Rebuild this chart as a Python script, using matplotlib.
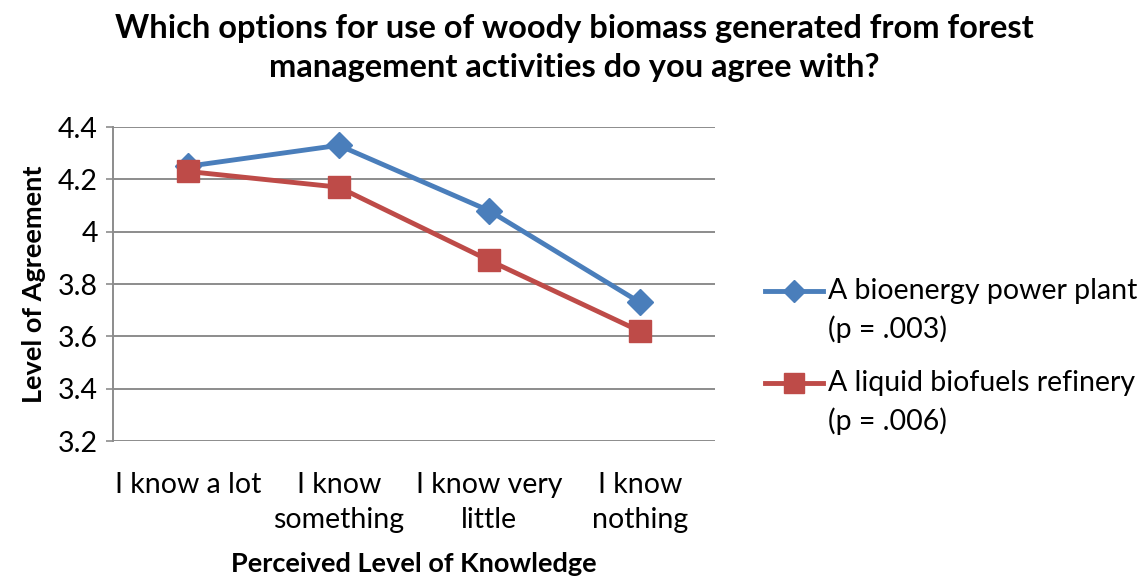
import matplotlib
matplotlib.use("Agg")
import matplotlib.pyplot as plt
from matplotlib.lines import Line2D

# Data
categories = ["I know a lot", "I know\nsomething", "I know very\nlittle", "I know\nnothing"]
power_plant = [4.25, 4.33, 4.08, 3.73]
biofuels = [4.23, 4.17, 3.89, 3.62]
series_labels = ["A bioenergy power plant", "A liquid biofuels refinery"]
p_labels = ["(p = .003)", "(p = .006)"]
y_ticks = [3.2, 3.4, 3.6, 3.8, 4.0, 4.2, 4.4]
y_ticklabels = ["3.2", "3.4", "3.6", "3.8", "4", "4.2", "4.4"]

blue = "#4A7EBB"
red = "#BE4B48"
grid_col = "#8C8C8C"

plt.rcParams["font.family"] = ["Lato", "DejaVu Sans"]

fig = plt.figure(figsize=(11.48, 5.82), dpi=100)
W, H = 1148, 582
ax = fig.add_axes([113 / W, 1 - 441 / H, (715 - 113) / W, (441 - 127) / H])

x = range(len(categories))
ax.plot(x, power_plant, color=blue, lw=3.5, marker="D", markersize=13,
        markerfacecolor=blue, markeredgecolor=blue, zorder=3)
ax.plot(x, biofuels, color=red, lw=3.5, marker="s", markersize=16,
        markerfacecolor=red, markeredgecolor=red, zorder=4)

ax.set_xlim(-0.5, len(categories) - 0.5)
ax.set_ylim(3.2, 4.4)
ax.set_yticks(y_ticks)
ax.set_yticklabels(y_ticklabels, fontsize=20.5)
ax.set_xticks(list(x))
ax.set_xticklabels(categories, fontsize=20.5, linespacing=1.45)
ax.tick_params(axis="x", length=0, pad=22)
ax.tick_params(axis="y", length=5, width=1.2, color=grid_col, pad=6)

ax.grid(axis="y", color=grid_col, lw=1.4)
ax.set_axisbelow(True)
for s in ["top", "right", "bottom"]:
    ax.spines[s].set_visible(False)
ax.spines["left"].set_color(grid_col)
ax.spines["left"].set_linewidth(1.4)

ax.set_ylabel("Level of Agreement", fontsize=19.5, fontweight="bold", labelpad=8)
ax.set_xlabel("Perceived Level of Knowledge", fontsize=19.5, fontweight="bold", labelpad=14)

fig.text(574 / W, 1 - 48 / H,
         "Which options for use of woody biomass generated from forest\nmanagement activities do you agree with?",
         ha="center", va="center", fontsize=23.5, fontweight="bold", linespacing=1.45)

# Legend drawn by hand so the marker lines up with the first text line
legend_rows = [(291, blue, "D", 11), (383, red, "s", 14)]
for (ypx, col, mk, ms), lab, p in zip(legend_rows, series_labels, p_labels):
    yf = 1 - ypx / H
    fig.add_artist(Line2D([765 / W, 794 / W, 823 / W], [yf, yf, yf],
                          transform=fig.transFigure, color=col, lw=3.5,
                          marker=mk, markersize=ms, markevery=[1],
                          markerfacecolor=col, markeredgecolor=col))
    fig.text(828 / W, yf, lab, ha="left", va="center", fontsize=20.5)
    fig.text(828 / W, 1 - (ypx + 38) / H, p, ha="left", va="center", fontsize=20.5)

fig.savefig("out.png", dpi=100, facecolor="white")
